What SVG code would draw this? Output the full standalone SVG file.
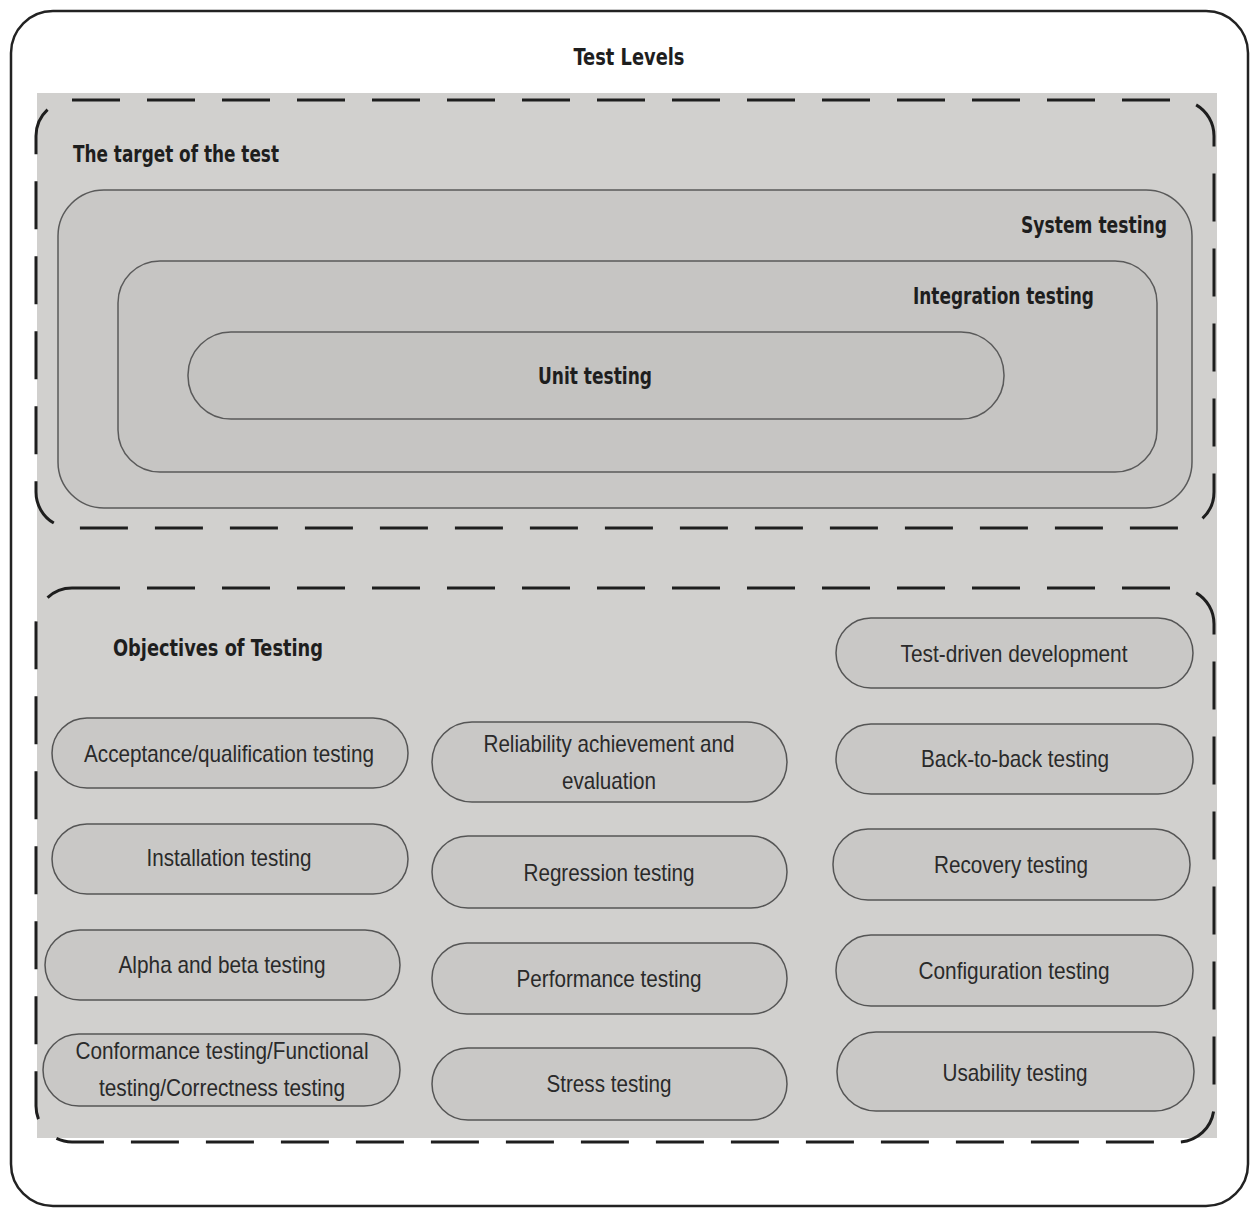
<svg xmlns="http://www.w3.org/2000/svg" width="1251" height="1209" viewBox="0 0 1251 1209">
<style>
.t{font-family:"DejaVu Sans Condensed","DejaVu Sans","Liberation Sans",sans-serif;font-weight:bold;font-size:23px;fill:#1e1e1e}
.n{font-family:"Liberation Sans","Arial",sans-serif;font-size:24px;fill:#2a2a2a;text-anchor:middle}
.box{fill:#c9c8c6;stroke:#555;stroke-width:1.5}
.nest{stroke:#5a5a5a;stroke-width:1.5}
.dash{fill:none;stroke:#1e1e1e;stroke-width:3;stroke-dasharray:48 27}
</style>
<rect x="0" y="0" width="1251" height="1209" fill="#fff"/>
<g id="frame">
<rect x="11" y="11" width="1237" height="1195" rx="42" fill="#fff" stroke="#222" stroke-width="2.5"/>
<text class="t" x="629" y="65" text-anchor="middle" textLength="111" lengthAdjust="spacingAndGlyphs">Test Levels</text>
</g>
<rect x="37" y="93" width="1180" height="1045" fill="#d1d0ce"/>
<g id="target-group">
<rect class="dash" x="36" y="100" width="1178" height="428" rx="36"/>
<text class="t" x="73" y="162" textLength="206" lengthAdjust="spacingAndGlyphs">The target of the test</text>
</g>
<g id="system">
<rect class="nest" x="58" y="190" width="1134" height="318" rx="46" fill="#c9c8c6"/>
<text class="t" x="1167" y="233" text-anchor="end" textLength="146" lengthAdjust="spacingAndGlyphs">System testing</text>
</g>
<g id="integration">
<rect class="nest" x="118" y="261" width="1039" height="211" rx="42" fill="#c6c5c3"/>
<text class="t" x="1094" y="304" text-anchor="end" textLength="181" lengthAdjust="spacingAndGlyphs">Integration testing</text>
</g>
<g id="unit">
<rect class="nest" x="188" y="332" width="816" height="87" rx="43" fill="#c4c3c1"/>
<text class="t" x="595" y="384" text-anchor="middle" textLength="114" lengthAdjust="spacingAndGlyphs">Unit testing</text>
</g>
<g id="objectives-group">
<rect class="dash" x="36" y="588" width="1178" height="554" rx="36"/>
<text class="t" x="113" y="656" textLength="210" lengthAdjust="spacingAndGlyphs">Objectives of Testing</text>
</g>
<g id="acceptance"><rect class="box" x="52" y="718" width="356" height="70" rx="35"/><text class="n" x="229" y="762" textLength="290" lengthAdjust="spacingAndGlyphs">Acceptance/qualification testing</text></g>
<g id="installation"><rect class="box" x="52" y="824" width="356" height="70" rx="35"/><text class="n" x="229" y="866" textLength="165" lengthAdjust="spacingAndGlyphs">Installation testing</text></g>
<g id="alpha-beta"><rect class="box" x="45" y="930" width="355" height="70" rx="35"/><text class="n" x="222" y="973" textLength="207" lengthAdjust="spacingAndGlyphs">Alpha and beta testing</text></g>
<g id="conformance"><rect class="box" x="43" y="1034" width="357" height="72" rx="36"/><text class="n" x="222" y="1059" textLength="293" lengthAdjust="spacingAndGlyphs">Conformance testing/Functional</text><text class="n" x="222" y="1096" textLength="246" lengthAdjust="spacingAndGlyphs">testing/Correctness testing</text></g>
<g id="reliability"><rect class="box" x="432" y="722" width="355" height="80" rx="40"/><text class="n" x="609" y="752" textLength="251" lengthAdjust="spacingAndGlyphs">Reliability achievement and</text><text class="n" x="609" y="789" textLength="94" lengthAdjust="spacingAndGlyphs">evaluation</text></g>
<g id="regression"><rect class="box" x="432" y="836" width="355" height="72" rx="36"/><text class="n" x="609" y="881" textLength="171" lengthAdjust="spacingAndGlyphs">Regression testing</text></g>
<g id="performance"><rect class="box" x="432" y="943" width="355" height="71" rx="35"/><text class="n" x="609" y="987" textLength="185" lengthAdjust="spacingAndGlyphs">Performance testing</text></g>
<g id="stress"><rect class="box" x="432" y="1048" width="355" height="72" rx="36"/><text class="n" x="609" y="1092" textLength="125" lengthAdjust="spacingAndGlyphs">Stress testing</text></g>
<g id="tdd"><rect class="box" x="836" y="618" width="357" height="70" rx="35"/><text class="n" x="1014" y="662" textLength="227" lengthAdjust="spacingAndGlyphs">Test-driven development</text></g>
<g id="back-to-back"><rect class="box" x="836" y="724" width="357" height="70" rx="35"/><text class="n" x="1015" y="767" textLength="188" lengthAdjust="spacingAndGlyphs">Back-to-back testing</text></g>
<g id="recovery"><rect class="box" x="833" y="829" width="357" height="71" rx="35"/><text class="n" x="1011" y="873" textLength="154" lengthAdjust="spacingAndGlyphs">Recovery testing</text></g>
<g id="configuration"><rect class="box" x="836" y="935" width="357" height="71" rx="35"/><text class="n" x="1014" y="979" textLength="191" lengthAdjust="spacingAndGlyphs">Configuration testing</text></g>
<g id="usability"><rect class="box" x="837" y="1032" width="357" height="79" rx="39"/><text class="n" x="1015" y="1081" textLength="145" lengthAdjust="spacingAndGlyphs">Usability testing</text></g>
<g id="connectors"></g>
</svg>
